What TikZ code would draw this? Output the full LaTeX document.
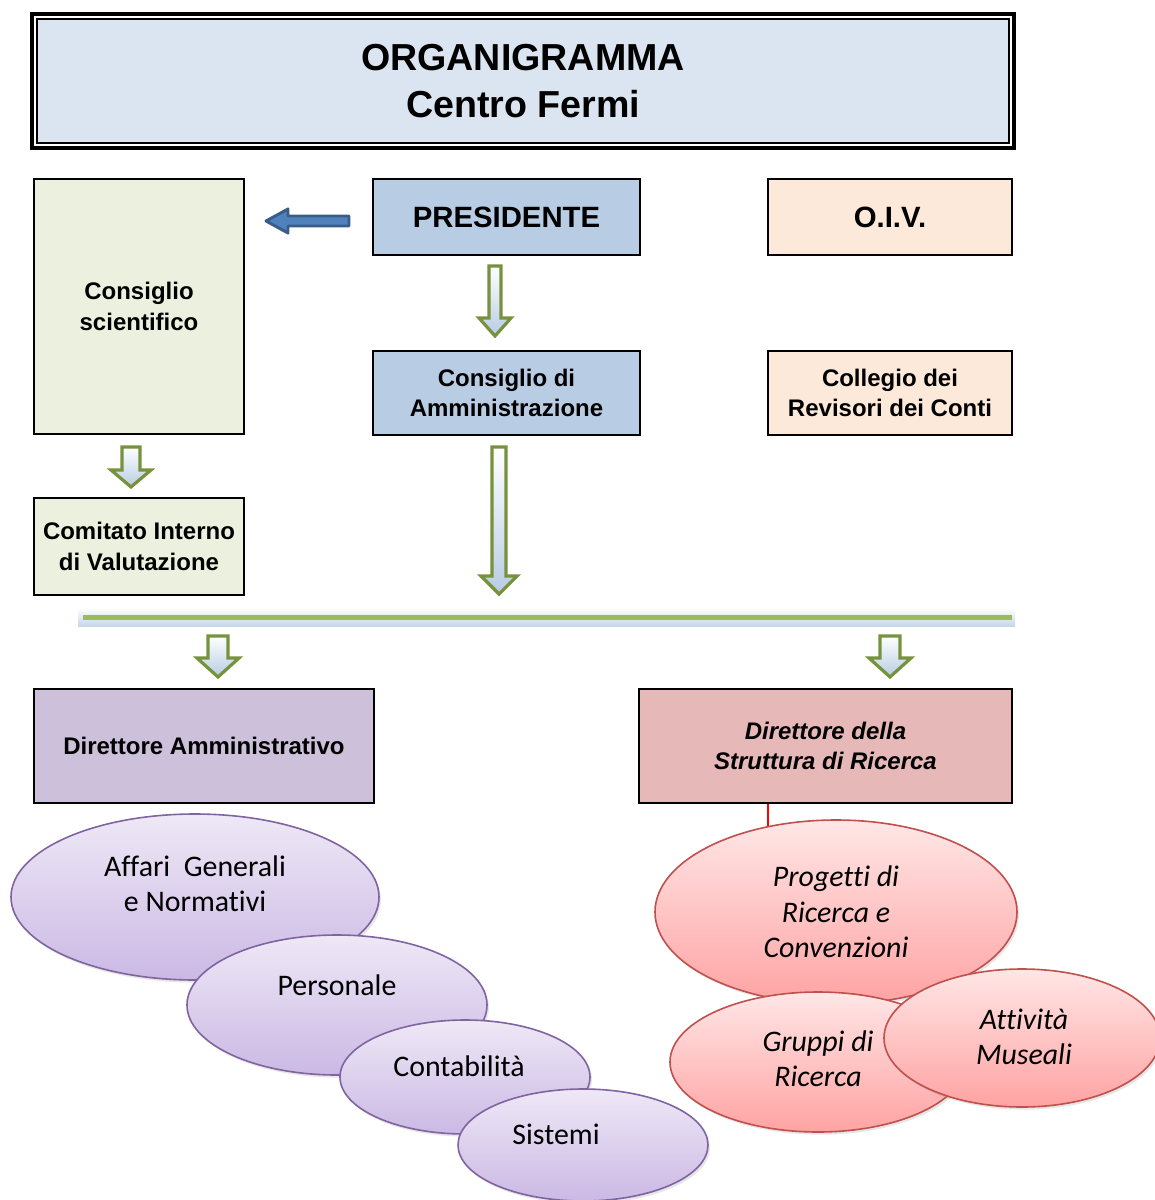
\documentclass[tikz,border=0pt]{standalone}
\usepackage{fontspec}
\setmainfont{Liberation Sans}
\newfontfamily\calfont[Ligatures=CommonOff]{Carlito}
\usetikzlibrary{shapes.geometric,shadows}
\definecolor{titlefill}{HTML}{DBE5F1}
\definecolor{bluefill}{HTML}{B8CCE4}
\definecolor{peachfill}{HTML}{FDE9D9}
\definecolor{greenfill}{HTML}{EBF1DE}
\definecolor{lilacfill}{HTML}{CCC0DA}
\definecolor{rosefill}{HTML}{E6B9B8}
\definecolor{olive}{HTML}{76923C}
\definecolor{lgreen}{HTML}{9BBB59}
\definecolor{arrblue}{HTML}{4F81BD}
\definecolor{arrblued}{HTML}{385D8A}
\definecolor{purpleline}{HTML}{8064A2}
\definecolor{purpletop}{HTML}{EEE8F6}
\definecolor{purplebot}{HTML}{CBB9E4}
\definecolor{redline}{HTML}{C0504D}
\definecolor{redtop}{HTML}{FFE6E6}
\definecolor{redbot}{HTML}{FFA3A3}
\tikzset{
  box/.style={draw=black, line width=2pt, rectangle, inner sep=2pt, align=center,
    font=\fontsize{18}{23}\selectfont\bfseries},
  garrow/.style={draw=olive, line width=2.4pt, line join=miter, top color=white, bottom color=bluefill},
  pics/garrowpic/.style n args={4}{code={
    \path[garrow] (-#2,0) -- (#2,0) -- (#2,{#1-#4}) -- (#3,{#1-#4}) -- (0,#1)
      -- (-#3,{#1-#4}) -- (-#2,{#1-#4}) -- cycle;
  }},
  pell/.style={ellipse, draw=purpleline, line width=1.2pt, top color=purpletop, bottom color=purplebot,
    inner sep=0pt, drop shadow={opacity=0.2, shadow xshift=1.5pt, shadow yshift=-2pt}},
  rell/.style={ellipse, draw=redline, line width=1.2pt, top color=redtop, bottom color=redbot,
    inner sep=0pt, drop shadow={opacity=0.2, shadow xshift=1.5pt, shadow yshift=-2pt}},
  etext/.style={align=center, font=\calfont\fontsize{22.4}{26.5}\selectfont, inner sep=0pt},
  itext/.style={etext, font=\calfont\fontsize{22.4}{26.5}\selectfont\itshape},
}
\begin{document}
\begin{tikzpicture}[x=0.75pt, y=-0.75pt]
\useasboundingbox (0,0) rectangle (1154,1200);
% title
\node[draw=black, line width=2.4pt, minimum width=736.5pt, minimum height=100.5pt, inner sep=0pt] (tout) at (523,81) {};
\node[draw=black, line width=1.5pt, fill=titlefill, minimum width=729pt, minimum height=93pt, inner sep=0pt,
  align=center, font=\fontsize{28.2}{35}\selectfont\bfseries] (title) at (523,81) {ORGANIGRAMMA\\Centro Fermi};
% boxes
\node[box, fill=greenfill, minimum width=157.5pt, minimum height=191.25pt] (cs) at (139,306.5) {Consiglio\\scientifico};
\node[box, fill=bluefill, minimum width=200.25pt, minimum height=57pt, font=\fontsize{22}{25}\selectfont\bfseries] (pres) at (506.5,217) {PRESIDENTE};
\node[box, fill=peachfill, minimum width=183pt, minimum height=57pt, font=\fontsize{22}{25}\selectfont\bfseries] (oiv) at (890,217) {O.I.V.};
\node[box, fill=bluefill, minimum width=200.25pt, minimum height=63pt] (cda) at (506.5,393) {Consiglio di\\Amministrazione};
\node[box, fill=peachfill, minimum width=183pt, minimum height=63pt] (crc) at (890,393) {Collegio dei\\Revisori dei Conti};
\node[box, fill=greenfill, minimum width=157.5pt, minimum height=72.75pt] (civ) at (139,546.5) {Comitato Interno\\di Valutazione};
\node[box, fill=lilacfill, minimum width=255pt, minimum height=85.5pt] (da) at (204,746) {Direttore Amministrativo};
\node[box, fill=rosefill, minimum width=279.75pt, minimum height=85.5pt, font=\fontsize{18}{23}\selectfont\bfseries\itshape] (dsr) at (825.5,746) {Direttore della\\Struttura di Ricerca};
% blue arrow
\path[fill=arrblue, draw=arrblued, line width=2.2pt, line join=round]
  (349,216) -- (288,216) -- (288,209) -- (266,221) -- (288,233) -- (288,226) -- (349,226) -- cycle;
% green arrows
\pic at (495,266) {garrowpic={70}{6}{16}{18}};
\pic at (131,447) {garrowpic={40}{9}{20}{17}};
\pic at (499,447) {garrowpic={147}{7}{18}{18}};
\pic at (218,636) {garrowpic={41}{10}{21}{19}};
\pic at (890,636) {garrowpic={41}{10}{21}{19}};
% horizontal bar
\shade[top color=white, bottom color=bluefill!80] (78,608) rectangle (1015,626);
\draw[lgreen, line width=3.5pt] (83,617.5) -- (1012,617.5);
% purple ellipses
\node[pell, minimum width=276pt, minimum height=124.5pt] (e1) at (195,897) {};
\node[etext] (t1) at (195,884) {Affari\ \ Generali\\e Normativi};
\node[pell, minimum width=225pt, minimum height=105pt] (e2) at (337,1005) {};
\node[etext] (t2) at (337,985) {Personale};
\node[pell, minimum width=187.5pt, minimum height=85.5pt] (e3) at (465,1077) {};
\node[etext] (t3) at (459,1066) {Contabilità};
\node[pell, minimum width=187.5pt, minimum height=84pt] (e4) at (583,1145) {};
\node[etext] (t4) at (556,1134) {Sistemi};
% red ellipses
\node[rell, minimum width=271.5pt, minimum height=138pt] (r1) at (836,912) {};
\node[itext] (u1) at (836,912) {Progetti di\\Ricerca e\\Convenzioni};
\node[rell, minimum width=222pt, minimum height=105pt] (r2) at (818,1062) {};
\node[itext] (u2) at (818,1059) {Gruppi di\\Ricerca};
\node[rell, minimum width=207pt, minimum height=103.5pt] (r3) at (1022,1038) {};
\node[itext] (u3) at (1024,1037) {Attività\\Museali};
% red connector
\coordinate (rl) at (768,826);
\draw[red, line width=1.6pt] (rl |- dsr.south) -- (rl);
\end{tikzpicture}
\end{document}
